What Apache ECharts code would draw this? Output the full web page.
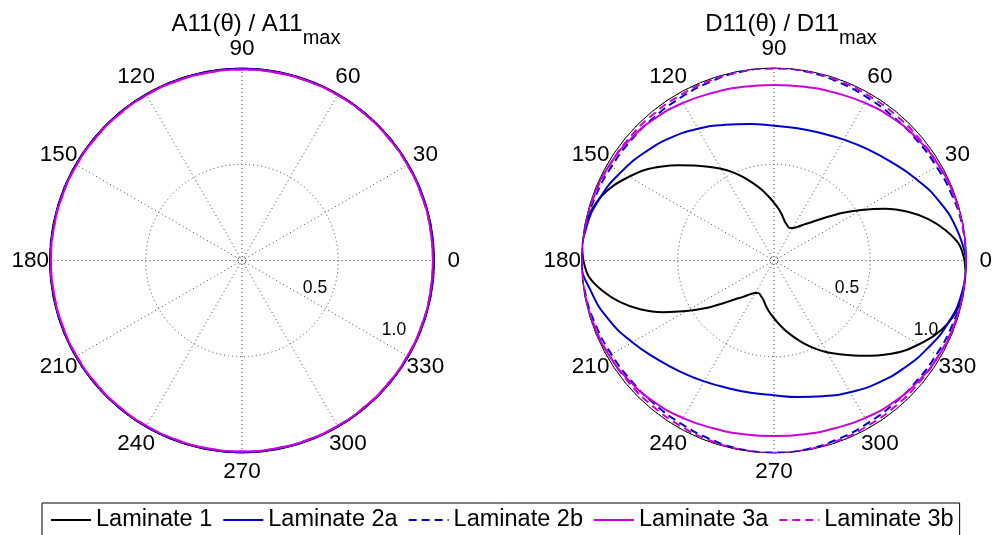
<!DOCTYPE html>
<html>
<head>
<meta charset="utf-8">
<script src="https://cdn.jsdelivr.net/npm/echarts@6/dist/echarts.min.js"></script>
<style>
  html, body { margin: 0; padding: 0; background: #ffffff; }
  #chart { width: 995px; height: 535px; }
</style>
</head>
<body>
<div id="chart"></div>
<script>
// Polar tick labels and legend names
const angleTicks = [0, 30, 60, 90, 120, 150, 180, 210, 240, 270, 300, 330];
const radialTicks = ['0.5', '1.0'];
const laminateNames = ['Laminate 1', 'Laminate 2a', 'Laminate 2b', 'Laminate 3a', 'Laminate 3b'];

// Angular sampling (degrees)
const angles10 = [0, 10, 20, 30, 40, 50, 60, 70, 80, 90, 100, 110, 120, 130, 140, 150, 160, 170,
  180, 190, 200, 210, 220, 230, 240, 250, 260, 270, 280, 290, 300, 310, 320, 330, 340, 350];
const angles5 = [0, 5, 10, 15, 20, 25, 30, 35, 40, 45, 50, 55, 60, 65, 70, 75, 80, 85,
  90, 95, 100, 105, 110, 115, 120, 125, 130, 135, 140, 145, 150, 155, 160, 165, 170, 175,
  180, 185, 190, 195, 200, 205, 210, 215, 220, 225, 230, 235, 240, 245, 250, 255, 260, 265,
  270, 275, 280, 285, 290, 295, 300, 305, 310, 315, 320, 325, 330, 335, 340, 345, 350, 355];

// A11(theta) / A11max  (in-plane stiffness, every laminate is isotropic here)
const a11Lam1  = [1.0, 1.0, 1.0, 1.0, 1.0, 1.0, 1.0, 1.0, 1.0, 1.0, 1.0, 1.0, 1.0, 1.0, 1.0, 1.0, 1.0, 1.0,
                  1.0, 1.0, 1.0, 1.0, 1.0, 1.0, 1.0, 1.0, 1.0, 1.0, 1.0, 1.0, 1.0, 1.0, 1.0, 1.0, 1.0, 1.0];
const a11Lam2a = [0.997, 0.997, 0.997, 0.997, 0.997, 0.997, 0.997, 0.997, 0.997, 0.997, 0.997, 0.997, 0.997, 0.997, 0.997, 0.997, 0.997, 0.997,
                  0.997, 0.997, 0.997, 0.997, 0.997, 0.997, 0.997, 0.997, 0.997, 0.997, 0.997, 0.997, 0.997, 0.997, 0.997, 0.997, 0.997, 0.997];
const a11Lam2b = [0.997, 0.997, 0.997, 0.997, 0.997, 0.997, 0.997, 0.997, 0.997, 0.997, 0.997, 0.997, 0.997, 0.997, 0.997, 0.997, 0.997, 0.997,
                  0.997, 0.997, 0.997, 0.997, 0.997, 0.997, 0.997, 0.997, 0.997, 0.997, 0.997, 0.997, 0.997, 0.997, 0.997, 0.997, 0.997, 0.997];
const a11Lam3a = [0.992, 0.992, 0.992, 0.992, 0.992, 0.992, 0.992, 0.992, 0.992, 0.992, 0.992, 0.992, 0.992, 0.992, 0.992, 0.992, 0.992, 0.992,
                  0.992, 0.992, 0.992, 0.992, 0.992, 0.992, 0.992, 0.992, 0.992, 0.992, 0.992, 0.992, 0.992, 0.992, 0.992, 0.992, 0.992, 0.992];
const a11Lam3b = [0.992, 0.992, 0.992, 0.992, 0.992, 0.992, 0.992, 0.992, 0.992, 0.992, 0.992, 0.992, 0.992, 0.992, 0.992, 0.992, 0.992, 0.992,
                  0.992, 0.992, 0.992, 0.992, 0.992, 0.992, 0.992, 0.992, 0.992, 0.992, 0.992, 0.992, 0.992, 0.992, 0.992, 0.992, 0.992, 0.992];

// D11(theta) / D11max  (bending stiffness)
const d11Lam1 = [0.99, 0.965, 0.905, 0.83, 0.74, 0.635, 0.525, 0.43, 0.345, 0.285, 0.245, 0.213,
                 0.195, 0.187, 0.197, 0.212, 0.24, 0.27, 0.30, 0.335, 0.375, 0.415, 0.46, 0.505,
                 0.55, 0.595, 0.645, 0.70, 0.76, 0.82, 0.87, 0.92, 0.96, 0.985, 0.997, 1.0,
                 0.99, 0.965, 0.905, 0.83, 0.74, 0.635, 0.525, 0.43, 0.345, 0.285, 0.245, 0.213,
                 0.195, 0.187, 0.197, 0.212, 0.24, 0.27, 0.30, 0.335, 0.375, 0.415, 0.46, 0.505,
                 0.55, 0.595, 0.645, 0.70, 0.76, 0.82, 0.87, 0.92, 0.96, 0.985, 0.997, 1.0];
const d11Lam2a = [1.0, 0.962, 0.91, 0.85, 0.795, 0.755, 0.725, 0.705, 0.698, 0.70, 0.72, 0.75, 0.79, 0.833, 0.875, 0.918, 0.96, 0.99,
                  1.0, 0.962, 0.91, 0.85, 0.795, 0.755, 0.725, 0.705, 0.698, 0.70, 0.72, 0.75, 0.79, 0.833, 0.875, 0.918, 0.96, 0.99];
const d11Lam2b = [1.0, 0.995, 0.985, 0.975, 0.97, 0.97, 0.975, 0.985, 0.995, 0.998, 0.995, 0.985, 0.975, 0.97, 0.97, 0.975, 0.985, 0.995,
                  1.0, 0.995, 0.985, 0.975, 0.97, 0.97, 0.975, 0.985, 0.995, 0.998, 0.995, 0.985, 0.975, 0.97, 0.97, 0.975, 0.985, 0.995];
const d11Lam3a = [1.0, 0.999, 0.995, 0.988, 0.977, 0.963, 0.945, 0.927, 0.916, 0.912, 0.916, 0.927, 0.945, 0.963, 0.977, 0.988, 0.995, 0.999,
                  1.0, 0.999, 0.995, 0.988, 0.977, 0.963, 0.945, 0.927, 0.916, 0.912, 0.916, 0.927, 0.945, 0.963, 0.977, 0.988, 0.995, 0.999];
const d11Lam3b = [1.0, 0.997, 0.992, 0.987, 0.985, 0.985, 0.987, 0.992, 0.997, 0.999, 0.997, 0.992, 0.987, 0.985, 0.985, 0.987, 0.992, 0.997,
                  1.0, 0.997, 0.992, 0.987, 0.985, 0.985, 0.987, 0.992, 0.997, 0.999, 0.997, 0.992, 0.987, 0.985, 0.985, 0.987, 0.992, 0.997];

// Layout of the two polar panels
const FONT = "'Liberation Sans', Arial, Helvetica, sans-serif";
const R = 192.5;
const centers = [[242, 260.5], [774, 260.5]];
const lineColors = ['#000000', '#0000cc', '#0000cc', '#cc00dd', '#cc00dd'];
const dashed = [false, false, true, false, true];
const smoothness = [0.3, 0.5, 0.5, 0.5, 0.5];

const panelData = [
  [[angles10, a11Lam1], [angles10, a11Lam2a], [angles10, a11Lam2b], [angles10, a11Lam3a], [angles10, a11Lam3b]],
  [[angles5, d11Lam1], [angles10, d11Lam2a], [angles10, d11Lam2b], [angles10, d11Lam3a], [angles10, d11Lam3b]]
];

// Closed curve: [radius, angle] pairs, repeating the first value at 360°
function closedCurve(angles, values) {
  const pts = angles.map((a, i) => [values[i], a]);
  pts.push([values[0], 360]);
  return pts;
}

const series = [];
panelData.forEach((curves, p) => {
  curves.forEach(([angles, values], k) => {
    series.push({
      name: laminateNames[k],
      type: 'line',
      coordinateSystem: 'polar',
      polarIndex: p,
      data: closedCurve(angles, values),
      smooth: smoothness[k],
      symbol: 'none',
      clip: false,
      lineStyle: {
        color: lineColors[k],
        width: 2,
        type: dashed[k] ? [8, 5] : 'solid'
      },
      itemStyle: { color: lineColors[k] },
      z: 3 + k
    });
  });
});

const polar = centers.map(c => ({ center: c, radius: R }));
const angleAxis = centers.map((c, p) => ({
  polarIndex: p,
  type: 'value',
  min: 0, max: 360, interval: 30,
  startAngle: 0,
  clockwise: false,
  axisLine: { show: true, lineStyle: { color: '#000', width: 1 } },
  axisTick: { show: false },
  axisLabel: { show: false },
  splitLine: { show: true, lineStyle: { color: '#444', width: 1, type: [1, 3] } }
}));
const radiusAxis = centers.map((c, p) => ({
  polarIndex: p,
  type: 'value',
  min: 0, max: 1, interval: 0.5,
  axisLine: { show: false },
  axisTick: { show: false },
  axisLabel: { show: false },
  splitLine: { show: true, lineStyle: { color: '#444', width: 1, type: [1, 3] } }
}));

// Angle labels at 1.1 R, radial labels, small centre ring
const graphic = [];
centers.forEach(([cx, cy]) => {
  angleTicks.forEach(a => {
    const t = a * Math.PI / 180;
    graphic.push({
      type: 'text',
      x: cx + 1.1 * R * Math.cos(t),
      y: cy - 1.1 * R * Math.sin(t),
      style: { text: String(a), fontSize: 22.5, fontFamily: FONT, fill: '#000', align: 'center', verticalAlign: 'middle' }
    });
  });
  const radialOffsets = [[73, 28], [152, 70]];
  radialTicks.forEach((txt, i) => {
    graphic.push({
      type: 'text',
      x: cx + radialOffsets[i][0],
      y: cy + radialOffsets[i][1],
      style: { text: txt, fontSize: 17.5, fontFamily: FONT, fill: '#000', align: 'center', verticalAlign: 'middle' }
    });
  });
  graphic.push({
    type: 'circle',
    shape: { cx: cx, cy: cy, r: 4 },
    style: { fill: 'none', stroke: '#444', lineWidth: 1, lineDash: [1, 2] }
  });
});

const titleRich = {
  b: { fontSize: 24, fontWeight: 'normal', fontFamily: FONT, color: '#000', lineHeight: 26, verticalAlign: 'top' },
  s: { fontSize: 20, fontWeight: 'normal', fontFamily: FONT, color: '#000', lineHeight: 52 }
};

const option = {
  animation: false,
  backgroundColor: '#ffffff',
  title: [
    { text: '{b|A11(θ) / A11}{s|max}', left: 256, top: 12, textAlign: 'center', padding: 0,
      textStyle: { fontWeight: 'normal', rich: titleRich } },
    { text: '{b|D11(θ) / D11}{s|max}', left: 791, top: 12, textAlign: 'center', padding: 0,
      textStyle: { fontWeight: 'normal', rich: titleRich } }
  ],
  legend: {
    data: laminateNames,
    left: 42,
    top: 503,
    orient: 'horizontal',
    itemWidth: 40,
    itemHeight: 14,
    itemGap: 10,
    padding: [5, 6, 5, 8],
    borderColor: '#000',
    borderWidth: 1,
    itemStyle: { opacity: 0 },
    textStyle: { fontSize: 23.5, fontFamily: FONT, color: '#000' },
    selectedMode: false
  },
  polar: polar,
  angleAxis: angleAxis,
  radiusAxis: radiusAxis,
  series: series,
  graphic: graphic
};

const chart = echarts.init(document.getElementById('chart'), null, { renderer: 'canvas' });
chart.setOption(option);
</script>
</body>
</html>
